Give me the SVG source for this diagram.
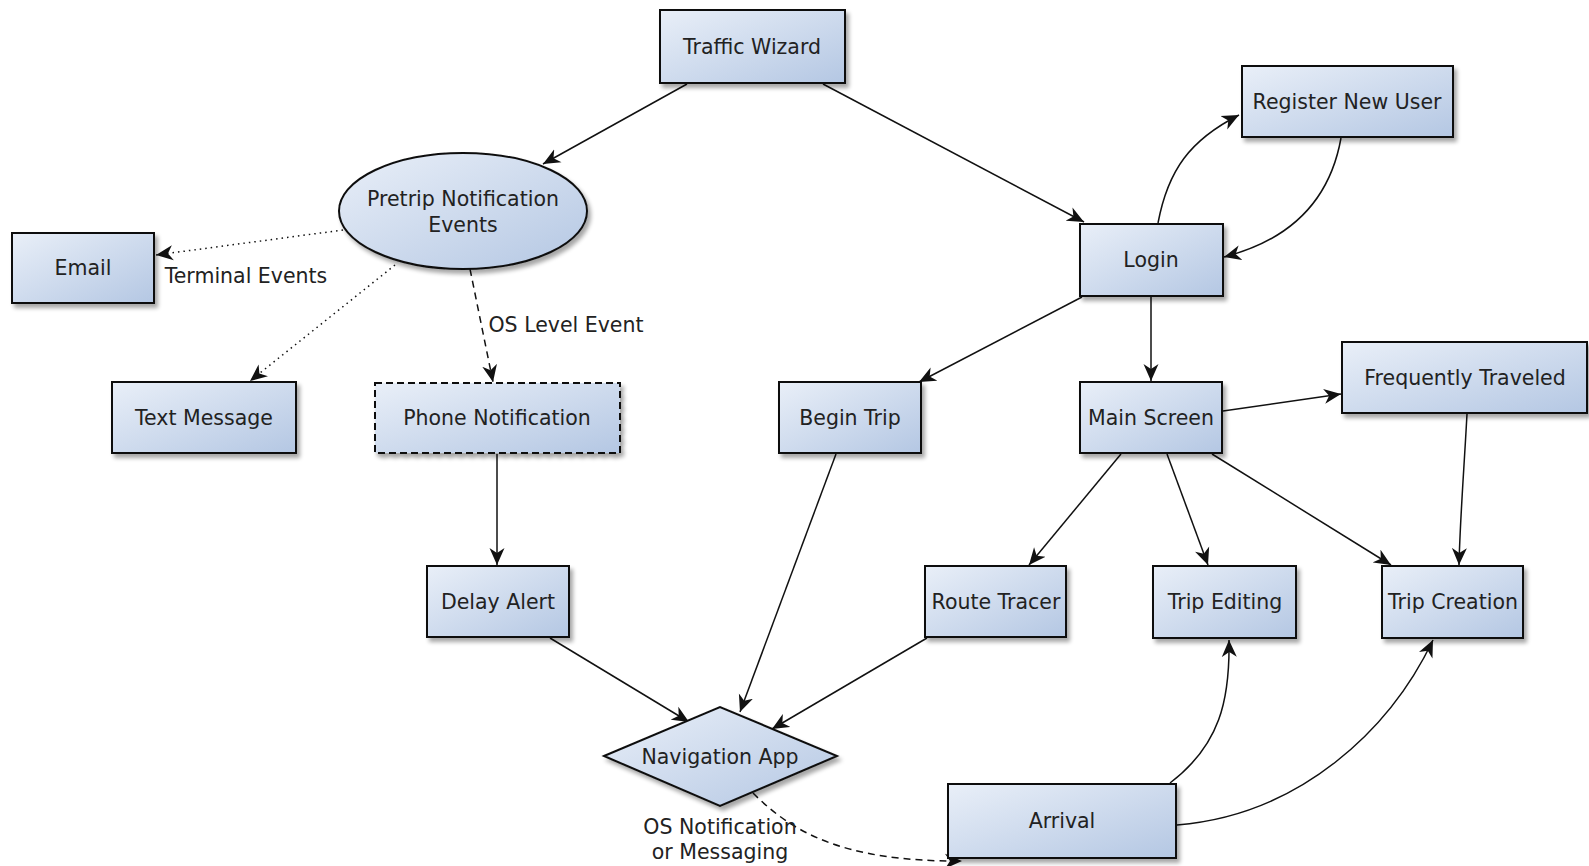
<svg xmlns="http://www.w3.org/2000/svg" width="1589" height="866" viewBox="0 0 1589 866">
  <defs>
    <linearGradient id="fill" x1="0" y1="0" x2="1" y2="1">
      <stop offset="0" stop-color="#e9eff8"/>
      <stop offset="1" stop-color="#b4c7e3"/>
    </linearGradient>
    <filter id="shadow" x="-10%" y="-10%" width="125%" height="135%">
      <feGaussianBlur in="SourceAlpha" stdDeviation="2"/>
      <feOffset dx="3" dy="4" result="b"/>
      <feComponentTransfer><feFuncA type="linear" slope="0.35"/></feComponentTransfer>
      <feMerge><feMergeNode/><feMergeNode in="SourceGraphic"/></feMerge>
    </filter>
    <marker id="arrow" markerUnits="userSpaceOnUse" markerWidth="20" markerHeight="16" refX="17" refY="8" orient="auto">
      <path d="M0,0.5 L17,8 L0,15.5 L5,8 z" fill="#111"/>
    </marker>
  </defs>
  <style>
    .box { fill: url(#fill); stroke: #111; stroke-width: 2; filter: url(#shadow); }
    .dash { stroke-dasharray: 7 4; }
    .lbl { font-family: "DejaVu Sans", "Liberation Sans", sans-serif; font-size: 20.5px; fill: #222; text-anchor: middle; }
    .edge { fill: none; stroke: #111; stroke-width: 1.5; marker-end: url(#arrow); }
    .dotted { stroke-dasharray: 1.5 4; }
    .dashed { stroke-dasharray: 7 5; }
  </style>

  <!-- connectors -->
  <g id="connectors">
    <path class="edge" d="M687,84 L543,164"/>
    <path class="edge" d="M823,84 L1084,222"/>
    <path class="edge dotted" d="M343,230 L156,255"/>
    <path class="edge dotted" d="M395,265 L250,381"/>
    <path class="edge dashed" d="M470,269 L493,382"/>
    <path class="edge" d="M497,454 L497,565"/>
    <path class="edge" d="M550,638 L689,722"/>
    <path class="edge" d="M836,454 L740,712"/>
    <path class="edge" d="M927,638 L772,729"/>
    <path class="edge dashed" d="M753,793 C790,830 840,862 962,861"/>
    <path class="edge" d="M1158,223 C1168,170 1190,140 1239,115"/>
    <path class="edge" d="M1341,138 C1330,200 1290,240 1224,257"/>
    <path class="edge" d="M1082,297 L919,382"/>
    <path class="edge" d="M1151,297 L1151,381"/>
    <path class="edge" d="M1223,411 L1341,394"/>
    <path class="edge" d="M1121,454 L1029,565"/>
    <path class="edge" d="M1167,454 L1208,565"/>
    <path class="edge" d="M1212,454 L1391,565"/>
    <path class="edge" d="M1467,414 C1464,470 1460,520 1459,565"/>
    <path class="edge" d="M1170,783 C1220,745 1230,700 1229,640"/>
    <path class="edge" d="M1177,825 C1300,815 1390,730 1433,640"/>
    <text class="lbl" x="246" y="283">Terminal Events</text>
    <text class="lbl" x="566" y="332">OS Level Event</text>
    <text class="lbl" x="720" y="834">OS Notification</text>
    <text class="lbl" x="720" y="859">or Messaging</text>
  </g>

  <g id="traffic-wizard">
    <rect class="box" x="660" y="10" width="185" height="73"/>
    <text class="lbl" x="752" y="54">Traffic Wizard</text>
  </g>
  <g id="pretrip">
    <ellipse class="box" cx="463" cy="211" rx="124" ry="58"/>
    <text class="lbl" x="463" y="206">Pretrip Notification</text>
    <text class="lbl" x="463" y="232">Events</text>
  </g>
  <g id="email">
    <rect class="box" x="12" y="233" width="142" height="70"/>
    <text class="lbl" x="83" y="275">Email</text>
  </g>
  <g id="text-message">
    <rect class="box" x="112" y="382" width="184" height="71"/>
    <text class="lbl" x="204" y="425">Text Message</text>
  </g>
  <g id="phone-notification">
    <rect class="box dash" x="375" y="383" width="245" height="70"/>
    <text class="lbl" x="497" y="425">Phone Notification</text>
  </g>
  <g id="delay-alert">
    <rect class="box" x="427" y="566" width="142" height="71"/>
    <text class="lbl" x="498" y="609">Delay Alert</text>
  </g>
  <g id="navigation-app">
    <polygon class="box" points="604,756 720,707 837,756 720,806"/>
    <text class="lbl" x="720" y="764">Navigation App</text>
  </g>
  <g id="arrival">
    <rect class="box" x="948" y="784" width="228" height="74"/>
    <text class="lbl" x="1062" y="828">Arrival</text>
  </g>
  <g id="login">
    <rect class="box" x="1080" y="224" width="143" height="72"/>
    <text class="lbl" x="1151" y="267">Login</text>
  </g>
  <g id="register-new-user">
    <rect class="box" x="1242" y="66" width="211" height="71"/>
    <text class="lbl" x="1347" y="109">Register New User</text>
  </g>
  <g id="begin-trip">
    <rect class="box" x="779" y="382" width="142" height="71"/>
    <text class="lbl" x="850" y="425">Begin Trip</text>
  </g>
  <g id="main-screen">
    <rect class="box" x="1080" y="382" width="142" height="71"/>
    <text class="lbl" x="1151" y="425">Main Screen</text>
  </g>
  <g id="frequently-traveled">
    <rect class="box" x="1342" y="342" width="245" height="71"/>
    <text class="lbl" x="1465" y="385">Frequently Traveled</text>
  </g>
  <g id="route-tracer">
    <rect class="box" x="925" y="566" width="141" height="71"/>
    <text class="lbl" x="996" y="609">Route Tracer</text>
  </g>
  <g id="trip-editing">
    <rect class="box" x="1153" y="566" width="143" height="72"/>
    <text class="lbl" x="1225" y="609">Trip Editing</text>
  </g>
  <g id="trip-creation">
    <rect class="box" x="1382" y="566" width="141" height="72"/>
    <text class="lbl" x="1453" y="609">Trip Creation</text>
  </g>
</svg>
